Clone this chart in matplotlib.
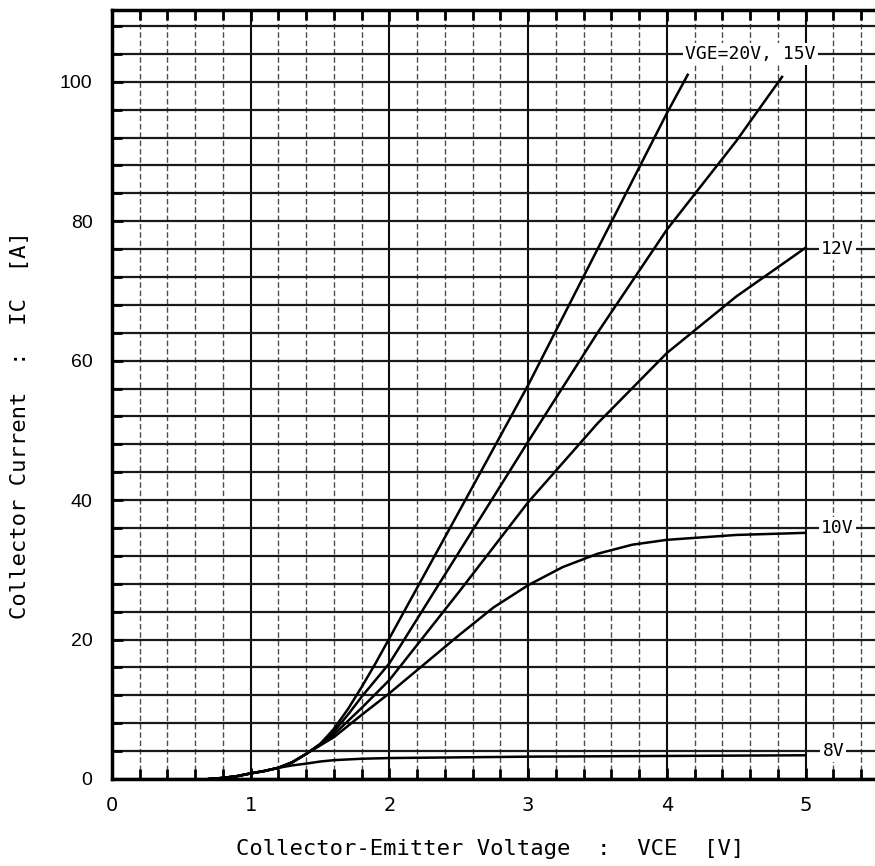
import numpy as np
import matplotlib
matplotlib.use("Agg")
import matplotlib.pyplot as plt
import matplotlib.ticker as ticker

# shared low-voltage part of all curves
v_low = [0.7, 0.8, 0.9, 1.0, 1.1, 1.2]
i_low = [0.0, 0.15, 0.4, 0.8, 1.15, 1.6]

v20 = v_low + [1.3, 1.4, 1.5, 1.6, 1.7, 1.8, 1.9, 2.0, 2.5, 3.0, 3.5, 4.0, 4.15]
i20 = i_low + [2.4, 3.6, 5.0, 7.2, 10.0, 13.2, 16.6, 20.2, 38.3, 56.5, 76.0, 95.5, 101.0]

v15 = v_low + [1.3, 1.4, 1.5, 1.6, 1.7, 1.8, 1.9, 2.0, 2.5, 3.0, 3.5, 4.0, 4.5, 4.83]
i15 = i_low + [2.4, 3.6, 5.0, 6.8, 9.2, 11.8, 14.2, 16.6, 32.5, 48.4, 64.0, 78.8, 91.5, 100.7]

v12 = v_low + [1.3, 1.4, 1.5, 1.6, 1.8, 2.0, 2.5, 3.0, 3.5, 4.0, 4.5, 5.0]
i12 = i_low + [2.4, 3.6, 4.9, 6.4, 10.2, 14.2, 26.8, 39.7, 51.0, 61.1, 69.2, 76.2]

v10 = v_low + [1.3, 1.4, 1.5, 1.6, 1.8, 2.0, 2.5, 2.75, 3.0, 3.25, 3.5, 3.75, 4.0, 4.5, 5.0]
i10 = i_low + [2.4, 3.6, 4.8, 6.0, 9.2, 12.3, 20.6, 24.6, 27.8, 30.4, 32.3, 33.6, 34.3, 35.0, 35.3]

v8 = v_low + [1.3, 1.4, 1.5, 1.6, 1.8, 2.0, 2.5, 3.0, 4.0, 5.0]
i8 = i_low + [1.95, 2.2, 2.5, 2.7, 2.9, 3.0, 3.1, 3.2, 3.3, 3.4]

labels = ["VGE=20V, 15V", "12V", "10V", "8V"]
label_x = [4.6, 5.23, 5.23, 5.2]
label_y = [104, 76, 36, 4]

fig = plt.figure(figsize=(8.75, 8.66), dpi=100)
ax = fig.add_axes([0.128, 0.1005, 0.872, 0.888])

ax.set_xlim(0, 5.5)
ax.set_ylim(0, 110.3)

ax.xaxis.set_major_locator(ticker.MultipleLocator(1))
ax.xaxis.set_minor_locator(ticker.MultipleLocator(0.2))
ax.yaxis.set_major_locator(ticker.MultipleLocator(20))
ax.yaxis.set_minor_locator(ticker.MultipleLocator(4))

# grid
ax.grid(True, which='major', axis='x', color='0.05', lw=1.5, ls='-')
ax.grid(True, which='minor', axis='x', color='0.3', lw=1.0, ls=(0, (4, 2)))
ax.grid(True, which='both', axis='y', color='0.1', lw=1.6, ls='-')
ax.set_axisbelow(True)

for s in ['left', 'top', 'bottom']:
    ax.spines[s].set_linewidth(2.5)
ax.spines['right'].set_visible(False)

ax.tick_params(which='both', direction='in', top=True, right=False, width=2, color='black')
ax.tick_params(which='major', length=8)
ax.tick_params(which='minor', length=7)
ax.tick_params(axis='x', which='major', pad=12, labelsize=14)
ax.tick_params(axis='y', which='major', pad=14, labelsize=14)
for t in ax.get_yticklabels():
    t.set_fontfamily('Liberation Sans')
ax.xaxis.set_major_formatter(ticker.FuncFormatter(lambda v, p: '%d' % v if v <= 5 else ''))
ax.yaxis.set_major_formatter(ticker.FuncFormatter(lambda v, p: '%d' % v if v <= 100 else ''))

for vx, iy in [(v20, i20), (v15, i15), (v12, i12), (v10, i10), (v8, i8)]:
    ax.plot(vx, iy, color='black', lw=1.8, solid_joinstyle='round')

for txt, lx, ly in zip(labels, label_x, label_y):
    ax.text(lx, ly, txt, ha='center', va='center', fontsize=13,
            family='DejaVu Sans Mono', stretch='condensed',
            bbox=dict(facecolor='white', edgecolor='none', pad=1.5))

ax.set_xlabel('Collector-Emitter Voltage  :  VCE  [V]', fontsize=16,
              family='DejaVu Sans Mono', labelpad=22)
ax.set_ylabel('Collector Current  :  IC  [A]', fontsize=16,
              family='DejaVu Sans Mono')
ax.yaxis.set_label_coords(-0.107, 0.46)
ax.xaxis.set_label_coords(0.495, -0.078)

fig.savefig('out.png', dpi=100)
